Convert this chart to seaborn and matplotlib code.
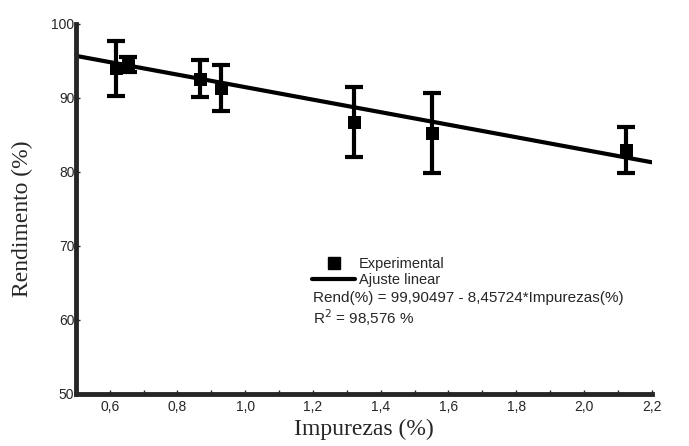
import matplotlib
matplotlib.use("Agg")
import matplotlib.pyplot as plt
import seaborn as sns
import numpy as np
import pandas as pd
from matplotlib.ticker import MultipleLocator, FuncFormatter
from matplotlib.lines import Line2D

# dados experimentais
impurezas = [0.618, 0.654, 0.867, 0.928, 1.32, 1.552, 2.124]
rendimento = [94.0, 94.5, 92.6, 91.3, 86.7, 85.3, 83.0]
erro = [3.7, 1.0, 2.5, 3.1, 4.7, 5.4, 3.1]

# ajuste linear
intercepto = 99.90497
inclinacao = -8.45724
x_ajuste = [0.5, 2.2]

sns.set_style("ticks")
plt.rcParams['font.family'] = ['Liberation Sans', 'DejaVu Sans']

df = pd.DataFrame({'Impurezas': impurezas, 'Rendimento': rendimento})
df_fit = pd.DataFrame({'Impurezas': x_ajuste,
                       'Rendimento': [intercepto + inclinacao * v for v in x_ajuste]})

fig = plt.figure(figsize=(6.89, 4.46), dpi=100)
ax = fig.add_axes([0.110, 0.1166, 0.836, 0.830])

sns.lineplot(data=df_fit, x='Impurezas', y='Rendimento', color='black', lw=3, ax=ax)
ax.errorbar(df['Impurezas'], df['Rendimento'], yerr=erro, fmt='none',
            ecolor='black', elinewidth=3, capsize=6.5, capthick=3)
sns.scatterplot(data=df, x='Impurezas', y='Rendimento', marker='s', s=80,
                color='black', edgecolor='black', ax=ax, zorder=5)

ax.set_xlim(0.5, 2.2)
ax.set_ylim(50, 100)
ax.xaxis.set_major_locator(MultipleLocator(0.2))
ax.xaxis.set_minor_locator(MultipleLocator(0.1))
ax.yaxis.set_major_locator(MultipleLocator(10))
ax.xaxis.set_major_formatter(FuncFormatter(lambda v, p: f"{v:.1f}".replace('.', ',')))
ax.tick_params(axis='x', which='both', direction='in', length=3, width=1, labelsize=10, pad=4)
ax.tick_params(axis='y', direction='in', length=3, width=1, labelsize=10, pad=1)
for s in ['left', 'bottom']:
    ax.spines[s].set_linewidth(3.5)
sns.despine(ax=ax)

ax.set_xlabel('Impurezas (%)', family='Liberation Serif', fontsize=17, labelpad=4)
ax.set_ylabel('Rendimento (%)', family='Liberation Serif', fontsize=17)
ax.yaxis.set_label_coords(-0.075, 0.473)

handles = [Line2D([], [], marker='s', color='black', ls='none', markersize=9),
           Line2D([], [], color='black', lw=3)]
fig.legend(handles, ['Experimental', 'Ajuste linear'], loc='upper left',
           bbox_to_anchor=(0.445, 0.437), frameon=False, fontsize=10.5,
           handlelength=2.9, handletextpad=0.3, labelspacing=0.15, borderaxespad=0)
fig.text(0.455, 0.332, 'Rend(%) = 99,90497 - 8,45724*Impurezas(%)', fontsize=11, va='center')
fig.text(0.455, 0.287, r'R$^2$ = 98,576 %', fontsize=11, va='center')

fig.savefig('out.png', dpi=100)
